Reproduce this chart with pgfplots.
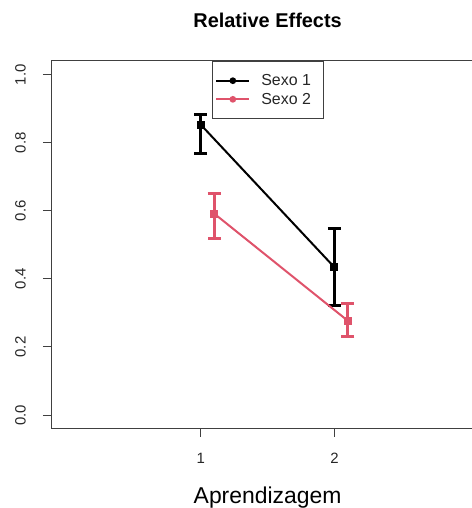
\documentclass[border=0pt]{standalone}
\usepackage{fontspec}
\setmainfont{Liberation Sans}
\usepackage{pgfplots}
\pgfplotsset{compat=1.18}
\definecolor{rred}{HTML}{DF536B}
\definecolor{axgray}{HTML}{404040}

\begin{document}
\begin{tikzpicture}
\useasboundingbox (-51bp,-79.3bp) rectangle (421bp,428.7bp);
\begin{axis}[
  at={(0,0)}, anchor=south west,
  scale only axis, width=421bp, height=367.7bp,
  xmin=-0.12, xmax=3.029, ymin=-0.04, ymax=1.04,
  clip=false,
  axis x line*=bottom, axis y line*=left,
  axis line style={axgray, line width=1bp},
  tick style={axgray, line width=1bp},
  tick align=outside, major tick length=8bp,
  xtick={1,2}, xticklabels={1,2},
  ytick={0,0.2,0.4,0.6,0.8,1}, yticklabels={0.0,0.2,0.4,0.6,0.8,1.0},
  ticklabel style={font=\fontsize{15}{18}\selectfont, text=black!85},
  yticklabel style={xshift=-17bp, rotate=90, anchor=south, inner sep=0pt},
  xticklabel style={yshift=-16bp, anchor=north, inner sep=0pt},
  legend style={at={(axis description cs:0.383,1)}, anchor=north west,
    draw=axgray, line width=0.8bp, font=\fontsize{16}{18}\selectfont,
    text=black!85, inner xsep=2.7bp, inner ysep=12bp, row sep=4bp,
    nodes={inner sep=1bp},
    /tikz/every odd column/.append style={column sep=10bp}},
  legend cell align=left,
  legend image code/.code={\draw[mark repeat=2, mark phase=2, mark=*, mark size=2.3bp] plot coordinates {(0bp,0bp) (16.5bp,0bp) (33bp,0bp)};},
  extra description/.code={\draw[axgray, line width=1bp] (axis description cs:0,1) -- (axis description cs:1,1);},
]
\addplot[black, line width=2bp, mark=square*, mark size=3bp,
  mark options={solid, fill=black},
  error bars/.cd, y dir=both, y explicit,
  error bar style={line width=3bp},
  error mark options={mark size=6.5bp, line width=3bp, rotate=90}]
  coordinates {(1,0.853) += (0,0.031) -= (0,0.086)
               (2,0.434) += (0,0.114) -= (0,0.113)};
\addlegendentry{Sexo 1\kern 9bp}
\addplot[rred, line width=2bp, mark=square*, mark size=3bp,
  mark options={solid, fill=rred},
  error bars/.cd, y dir=both, y explicit,
  error bar style={line width=3bp},
  error mark options={mark size=6.5bp, line width=3bp, rotate=90}]
  coordinates {(1.1,0.592) += (0,0.059) -= (0,0.073)
               (2.1,0.277) += (0,0.051) -= (0,0.047)};
\addlegendentry{Sexo 2\kern 9bp}
\end{axis}
\node[font=\bfseries\fontsize{20}{24}\selectfont, anchor=base] at (216.6bp,400.7bp) {Relative Effects};
\node[font=\fontsize{23}{28}\selectfont, anchor=base] at (216.6bp,-74.3bp) {Aprendizagem};
\end{tikzpicture}
\end{document}
